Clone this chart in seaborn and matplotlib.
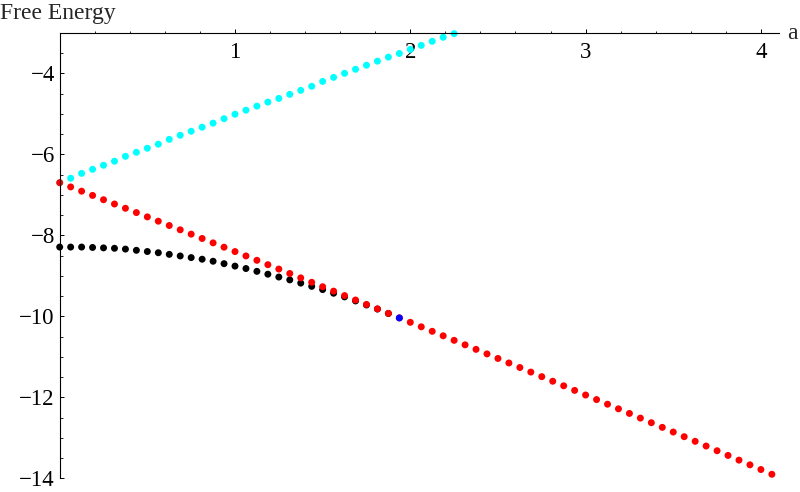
import numpy as np
import pandas as pd
import matplotlib
matplotlib.use("Agg")
import matplotlib.pyplot as plt
from matplotlib.ticker import FixedLocator
import seaborn as sns

# sampling step of the parameter a (all series share the grid)
step = 0.0625

# upper branch (cyan), clipped at the top of the plot range
cyan = [-6.70, -6.59, -6.47, -6.37, -6.27, -6.17, -6.05, -5.95, -5.85, -5.75,
        -5.63, -5.53, -5.43, -5.33, -5.23, -5.12, -5.01, -4.91, -4.81, -4.71,
        -4.62, -4.52, -4.42, -4.32, -4.20, -4.10, -4.00, -3.90, -3.80, -3.70,
        -3.60, -3.51, -3.41, -3.31, -3.21, -3.11, -3.02]

# lower branch (black) until it meets the red one
black = [-8.29, -8.29, -8.29, -8.30, -8.31, -8.32, -8.34, -8.37, -8.40, -8.43,
         -8.47, -8.51, -8.55, -8.59, -8.64, -8.70, -8.76, -8.82, -8.89, -8.96,
         -9.03, -9.10, -9.18, -9.26, -9.34, -9.43, -9.52, -9.62, -9.72, -9.82,
         -9.93]

# red branch over the whole range
red = [-6.700, -6.805, -6.910, -7.015, -7.121, -7.227, -7.332, -7.438, -7.545, -7.651,
       -7.758, -7.864, -7.971, -8.078, -8.186, -8.293, -8.401, -8.509, -8.617, -8.725,
       -8.833, -8.942, -9.051, -9.160, -9.269, -9.378, -9.488, -9.597, -9.707, -9.817,
       -9.927, -10.038, -10.148, -10.259, -10.370, -10.481, -10.593, -10.704, -10.816, -10.928,
       -11.040, -11.152, -11.264, -11.377, -11.490, -11.603, -11.716, -11.829, -11.943, -12.056,
       -12.170, -12.284, -12.398, -12.513, -12.627, -12.742, -12.857, -12.972, -13.087, -13.203,
       -13.319, -13.435, -13.551, -13.667, -13.783, -13.900]

# crossing point (blue)
blue_a = [1.9375]
blue = [-10.04]

x_ticks = [1, 2, 3, 4]
y_ticks = [-14, -12, -10, -8, -6, -4]

# tabella lunga: l'ordine delle righe decide chi sta sopra
df = pd.concat([
    pd.DataFrame({'a': np.arange(len(cyan)) * step, 'F': cyan, 'ramo': 'cyan'}),
    pd.DataFrame({'a': np.arange(len(black)) * step, 'F': black, 'ramo': 'black'}),
    pd.DataFrame({'a': np.arange(len(red)) * step, 'F': red, 'ramo': 'red'}),
    pd.DataFrame({'a': blue_a, 'F': blue, 'ramo': 'blue'}),
], ignore_index=True)

colori = {'cyan': '#00ffff', 'black': '#000000', 'red': '#ff0000', 'blue': '#0000ff'}

sns.set_style("white")
plt.rcParams['font.family'] = ['Liberation Serif', 'DejaVu Serif']

fig = plt.figure(figsize=(8, 4.92), dpi=100)
ax = fig.add_axes([0.0625, 0.01423, 0.925, 0.9654])

sns.scatterplot(data=df, x='a', y='F', hue='ramo', palette=colori,
                s=25, linewidth=0, legend=False, ax=ax)

ax.set_xlim(-0.0553, 4.166)
ax.set_ylim(-14.165, -2.437)

# assi alla Mathematica: asse x a F=-3, asse y ad a=0
ax.spines['top'].set_visible(False)
ax.spines['right'].set_visible(False)
ax.spines['left'].set_position(('data', 0))
ax.spines['bottom'].set_position(('data', -3))
ax.spines['left'].set_bounds(-14, -3)
ax.spines['bottom'].set_bounds(0, 4.105)
for s in ['left', 'bottom']:
    ax.spines[s].set_linewidth(0.8)
    ax.spines[s].set_color('black')

ax.xaxis.set_major_locator(FixedLocator(x_ticks))
ax.yaxis.set_major_locator(FixedLocator(y_ticks))
ax.xaxis.set_minor_locator(FixedLocator([v for v in np.arange(0.2, 4.01, 0.2)
                                         if abs(v - round(v)) > 1e-6]))
ax.yaxis.set_minor_locator(FixedLocator([v for v in np.arange(-13.5, -3.4, 0.5)
                                         if abs(v / 2 - round(v / 2)) > 1e-6]))
ax.tick_params(which='both', bottom=True, left=True, colors='black')
ax.tick_params(which='major', direction='in', length=3, width=0.7, labelsize=16.5)
ax.tick_params(which='minor', direction='in', length=1.8, width=0.6)
ax.tick_params(axis='x', which='major', pad=6.5)
ax.tick_params(axis='y', which='major', pad=3.5)
ax.set_xlabel('')
ax.set_ylabel('')

fig.text(0.0, 1 - 19 / 492, 'Free Energy', fontsize=17, va='baseline', ha='left')
fig.text(787 / 800, 1 - 39 / 492, 'a', fontsize=17, va='baseline', ha='left')

fig.savefig('out.png', dpi=100)
